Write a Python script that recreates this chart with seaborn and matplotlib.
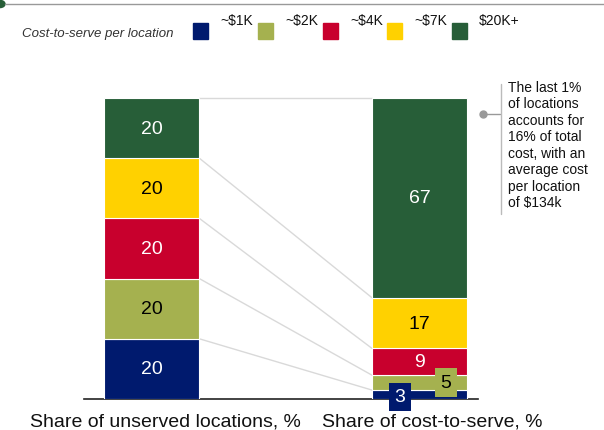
import numpy as np
import matplotlib
matplotlib.use('Agg')
import matplotlib.pyplot as plt
import matplotlib.patches as mpatches
import matplotlib.transforms as mtransforms
from matplotlib.lines import Line2D
import seaborn as sns

# data
bar_labels = ["Share of unserved locations, %", "Share of cost-to-serve, %"]
tiers = ["~$1K", "~$2K", "~$4K", "~$7K", "$20K+"]
unserved = [20, 20, 20, 20, 20]
cost = [3, 5, 9, 17, 67]
colors = ["#001a6e", "#a5b14f", "#c8002d", "#ffd100", "#275e38"]
text_colors = ["white", "black", "white", "black", "white"]
note = ("The last 1%\nof locations\naccounts for\n16% of total\ncost, with an\n"
        "average cost\nper location\nof $134k")

sns.set_theme(style="white")
plt.rcParams['font.family'] = ['Liberation Sans', 'DejaVu Sans']

W, H = 604, 431
fig = plt.figure(figsize=(W / 100, H / 100), dpi=100)

# axes placed in pixel terms
x0, x1 = 84, 478
y_base, y_top = 400, 84
ax = fig.add_axes([x0 / W, 1 - y_base / H, (x1 - x0) / W, (y_base - y_top) / H])

width = 0.355
ax.set_xlim(-0.254, 1.219)
ax.set_ylim(0, 105)

stacks = [np.array(unserved, float), np.array(cost, float)]
# scale both stacks to a full 100 height
stacks = [s / s.sum() * 100 for s in stacks]
raw = [unserved, cost]

lab_fs = 14
tops = []
for i, s in enumerate(stacks):
    bottoms = np.concatenate([[0], np.cumsum(s)[:-1]])
    tops.append(np.cumsum(s))
    ax.bar(i, s, width=width, bottom=bottoms, color=colors,
           edgecolor="white", linewidth=0.8, zorder=3)
    for j, (v, b) in enumerate(zip(s, bottoms)):
        val = raw[i][j]
        cy = b + v / 2
        if i == 1 and j == 0:
            ax.text(i - 0.073, cy - 0.8, str(val), ha="center", va="center", fontsize=lab_fs,
                    color="white", zorder=5,
                    bbox=dict(boxstyle="square,pad=0.3", fc=colors[j], ec="none"))
        elif i == 1 and j == 1:
            ax.text(i + 0.1, cy, str(val), ha="center", va="center", fontsize=lab_fs,
                    color="black", zorder=5,
                    bbox=dict(boxstyle="square,pad=0.3", fc=colors[j], ec="none"))
        else:
            ax.text(i, cy, str(val), ha="center", va="center", fontsize=lab_fs,
                    color=text_colors[j], zorder=5)

# connector lines between segment tops
for a, b in zip(tops[0], tops[1]):
    ax.plot([width / 2, 1 - width / 2], [a, b], color="#d9d9d9", lw=1, zorder=1)

ax.set_xticks([0, 1])
ax.set_xticklabels(bar_labels, fontsize=14, color="#111111")
ax.tick_params(axis="x", length=0, pad=10)
shift = mtransforms.ScaledTranslation(13 / 100, 0, fig.dpi_scale_trans)
for lbl in ax.get_xticklabels():
    lbl.set_transform(lbl.get_transform() + shift)
ax.set_yticks([])
for sp in ["top", "right", "left"]:
    ax.spines[sp].set_visible(False)
ax.spines["bottom"].set_color("#222222")
ax.spines["bottom"].set_linewidth(1.2)

# callout
ax.plot([1.237, 1.30], [94.7, 94.7], color="#999999", lw=1, clip_on=False)
ax.plot([1.237], [94.7], "o", color="#999999", ms=5, clip_on=False)
fig.add_artist(Line2D([501 / W, 501 / W], [1 - 85 / H, 1 - 215 / H],
                      color="#bbbbbb", lw=1))
fig.text(508 / W, 1 - 81 / H, note, ha="left", va="top", fontsize=10,
         linespacing=1.22, color="#111111")

# top rule
fig.add_artist(Line2D([5 / W, 1], [1 - 5 / H, 1 - 5 / H], color="#999999", lw=1))
fig.add_artist(mpatches.Circle((0, 1 - 5 / H), 5 / W, color="#275e38",
                               transform=fig.transFigure))

# legend
fig.text(22 / W, 1 - 34 / H, "Cost-to-serve per location", ha="left", va="center",
         fontsize=9.5, style="italic", color="#333333")
sq_x = [193, 258, 323, 387, 452]
for k, (t, c) in enumerate(zip(tiers, colors)):
    fig.add_artist(mpatches.Rectangle((sq_x[k] / W, 1 - 40 / H), 15 / W, 16 / H,
                                      color=c, transform=fig.transFigure))
    fig.text((sq_x[k] + 27) / W, 1 - 21 / H, t, ha="left", va="center",
             fontsize=10, color="#111111")

fig.savefig("out.png", dpi=100)
